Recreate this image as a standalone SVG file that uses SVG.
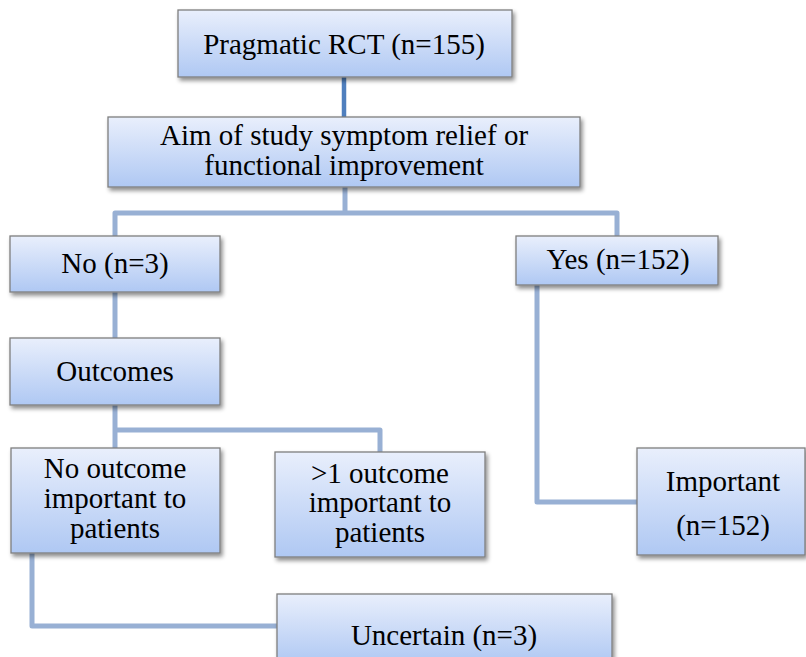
<svg xmlns="http://www.w3.org/2000/svg" width="806" height="657" viewBox="0 0 806 657">
<defs>
<linearGradient id="g" x1="0" y1="0" x2="0" y2="1">
<stop offset="0" stop-color="#e9effc"/>
<stop offset="1" stop-color="#afc8f3"/>
</linearGradient>
<filter id="sh" x="-10%" y="-10%" width="130%" height="140%">
<feDropShadow dx="2" dy="3" stdDeviation="2" flood-color="#000" flood-opacity="0.45"/>
</filter>
<style>
.box{fill:url(#g);stroke:#7f7f7f;stroke-width:1.3;filter:url(#sh)}
.t{font-size:29px;fill:#000;text-anchor:middle}
.c{fill:none;stroke:#98b0d4;stroke-width:5;stroke-linejoin:round}
</style>
</defs>
<rect width="806" height="657" fill="#fff"/>
<g id="connectors">
<line x1="344" y1="77" x2="344" y2="117" style="stroke:#4f7fbe;stroke-width:4.5"/>
<polyline class="c" points="345,187 345,213"/>
<polyline class="c" points="115,236 115,213 617,213 617,236"/>
<polyline class="c" points="115,292 115,338"/>
<polyline class="c" points="115,405 115,448"/>
<polyline class="c" points="115,430 380,430 380,452"/>
<polyline class="c" points="537,285 537,502 637,502"/>
<polyline class="c" points="32,553 32,626 277,626"/>
</g>
<g font-family="'Liberation Serif', 'Times New Roman', serif">
<g id="n1"><rect class="box" x="178" y="10" width="334" height="67"/><text class="t" x="344" y="54">Pragmatic RCT (n=155)</text></g>
<g id="n2"><rect class="box" x="108" y="117" width="472" height="70"/><text class="t" x="344" y="145">Aim of study symptom relief or</text><text class="t" x="344" y="175">functional improvement</text></g>
<g id="n3"><rect class="box" x="10" y="236" width="210" height="56"/><text class="t" x="115" y="273">No (n=3)</text></g>
<g id="n4"><rect class="box" x="516" y="236" width="202" height="49"/><text class="t" x="618" y="269">Yes (n=152)</text></g>
<g id="n5"><rect class="box" x="10" y="338" width="210" height="67"/><text class="t" x="115" y="381">Outcomes</text></g>
<g id="n6"><rect class="box" x="11" y="448" width="209" height="105"/><text class="t" x="115" y="478">No outcome</text><text class="t" x="115" y="508">important to</text><text class="t" x="115" y="538">patients</text></g>
<g id="n7"><rect class="box" x="275" y="452" width="210" height="105"/><text class="t" x="380" y="483">&gt;1 outcome</text><text class="t" x="380" y="512">important to</text><text class="t" x="380" y="542">patients</text></g>
<g id="n8"><rect class="box" x="637" y="448" width="168" height="107"/><text class="t" x="723" y="491">Important</text><text class="t" x="723" y="535">(n=152)</text></g>
<g id="n9"><rect class="box" x="277" y="594" width="335" height="70"/><text class="t" x="444" y="645">Uncertain (n=3)</text></g>
</g>
</svg>
